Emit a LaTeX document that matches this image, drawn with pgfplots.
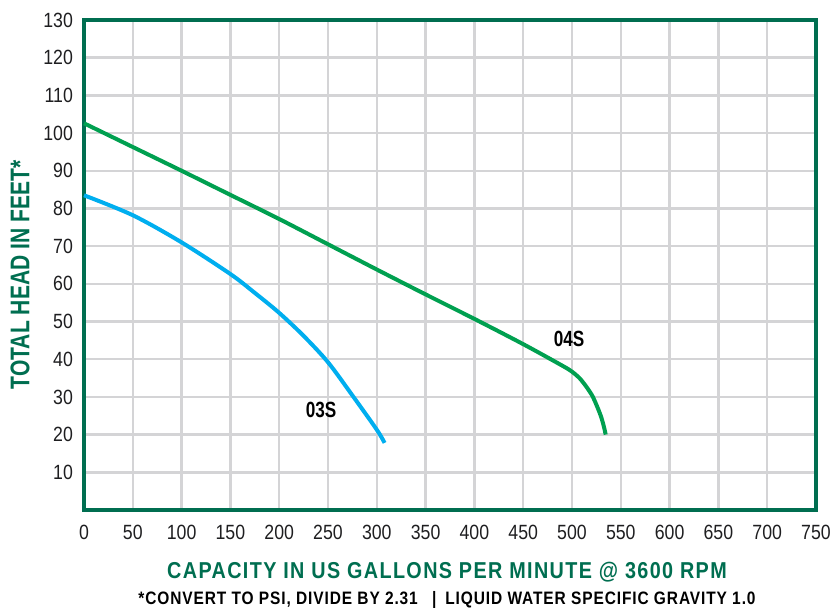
\documentclass[border=0pt]{standalone}
\usepackage{fontspec}
\usepackage{pgfplots}
\pgfplotsset{compat=1.18}
\newfontfamily\condf[FakeStretch=0.78]{Liberation Sans}
\newfontfamily\tickf[FakeStretch=0.86]{Liberation Sans}
\newfontfamily\xlabf[FakeStretch=0.86, LetterSpace=6]{Liberation Sans}
\newfontfamily\notef[FakeStretch=0.86, LetterSpace=5]{Liberation Sans}
\definecolor{frameg}{RGB}{0,110,80}
\definecolor{curveg}{RGB}{0,160,80}
\definecolor{curveb}{RGB}{0,174,239}
\definecolor{gridc}{RGB}{212,212,214}
\definecolor{tickc}{RGB}{30,30,32}
\begin{document}
\begin{tikzpicture}
\useasboundingbox (-42pt,-50pt) rectangle (373pt,255pt);
\begin{axis}[
  at={(0,0)}, anchor=origin,
  scale only axis, width=366pt, height=245pt,
  xmin=0, xmax=750, ymin=0, ymax=130,
  xtick={0,50,...,750}, ytick={10,20,...,130},
  grid=major,
  major grid style={gridc, line width=1.2pt},
  axis line style={frameg, line width=2pt},
  major tick length=0pt,
  tick style={draw=none},
  /pgf/number format/assume math mode=true,
  ticklabel style={font=\tickf\fontsize{10.3}{12}\selectfont, text=tickc},
  xticklabel style={yshift=-4pt},
  yticklabel style={xshift=-2pt},
  clip=false,
]
\addplot[curveg, line width=2pt, smooth] coordinates {
 (0,102.6) (50,96.3) (100,90) (150,83.6) (200,77.2) (250,70.5) (300,63.8)
 (350,57.2) (400,50.7) (450,44) (490,38.3) (500,36.7) (508,34.9) (515,32.6) (521,30.2) (526,27.3) (530,24.6) (533,21.8) (534.5,20)};
\addplot[curveb, line width=2pt, smooth] coordinates {
 (0,83.5) (50,78.2) (100,71) (150,62.6) (175,57.6) (200,52.3) (225,46.2) (250,39.2) (275,30.4) (300,21.3) (308,17.8)};
\node[font=\condf\bfseries\fontsize{11}{13}\selectfont] at (axis cs:497,45.3) {04S};
\node[font=\condf\bfseries\fontsize{11}{13}\selectfont] at (axis cs:243,26.6) {03S};
\node[font=\condf\bfseries\fontsize{13.5}{16}\selectfont, text=frameg, rotate=90] at (-32pt,117.5pt) {TOTAL HEAD IN FEET*};
\node[font=\xlabf\bfseries\fontsize{11.5}{13}\selectfont, text=frameg] at (181.5pt,-31pt) {CAPACITY IN US GALLONS PER MINUTE @ 3600 RPM};
\node[font=\notef\bfseries\fontsize{9}{11}\selectfont, text=black] at (181.5pt,-45pt) {*CONVERT TO PSI, DIVIDE BY 2.31 \enspace\textbar\enspace LIQUID WATER SPECIFIC GRAVITY 1.0};
\end{axis}
\end{tikzpicture}
\end{document}
